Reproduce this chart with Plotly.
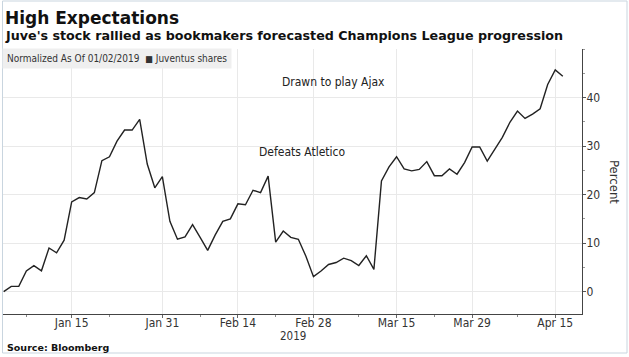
import pandas as pd
import plotly.graph_objects as go

# ---- data ----
dates = pd.bdate_range("2019-01-02", "2019-04-16")  # trading days
jan_vals = [0.0, 1.1, 1.1, 4.25, 5.35, 4.3, 9.0, 8.0, 10.6, 18.5, 19.4, 19.1, 20.4,
            27.0, 27.8, 31.0, 33.3, 33.3, 35.5, 26.3, 21.4, 23.7]
feb_vals = [14.5, 10.8, 11.3, 13.8, 11.2, 8.5, 11.7, 14.5, 15.0, 18.1, 17.9, 20.9,
            20.4, 23.8, 10.2, 12.5, 11.2, 10.8, 7.3, 3.1]
mar_vals = [4.25, 5.6, 6.0, 6.9, 6.4, 5.4, 7.4, 4.6, 22.8, 25.7, 27.8, 25.3, 24.9,
            25.2, 26.8, 23.9, 23.9, 25.3, 24.2, 26.6, 29.8]
apr_vals = [29.8, 26.9, 29.3, 31.8, 34.9, 37.2, 35.7, 36.6, 37.7, 42.7, 45.7, 44.4]
values = jan_vals + feb_vals + mar_vals + apr_vals

series_name = "Juventus shares"
legend_note = "Normalized As Of 01/02/2019"
tick_dates = ["2019-01-15", "2019-01-31", "2019-02-14", "2019-02-28",
              "2019-03-15", "2019-03-29", "2019-04-15"]
tick_labels = ["Jan 15", "Jan 31", "Feb 14", "Feb 28", "Mar 15", "Mar 29", "Apr 15"]
minor_dates = ["2019-01-07", "2019-01-22", "2019-02-07", "2019-02-21",
               "2019-03-08", "2019-03-22", "2019-04-08"]
y_ticks = [0, 10, 20, 30, 40]
y_minor = [5, 15, 25, 35, 45, 50]
events = [("Drawn to play Ajax", 333, 82), ("Defeats Atletico", 302, 152)]

# ---- layout geometry ----
W, H = 629, 357
L, R, T, B = 3, 47, 49, 43
PW, PH = W - L - R, H - T - B


def px(x):
    return (x - L) / PW


def py(y):
    return (T + PH - y) / PH


NARROW = "DejaVu Sans Condensed, Liberation Sans Narrow, Arial Narrow, sans-serif"
BOLD = "DejaVu Sans, Verdana, sans-serif"

fig = go.Figure()
fig.add_trace(go.Scatter(x=dates, y=values, mode="lines", name=series_name,
                         line=dict(color="#222222", width=1.4), showlegend=False))

fig.update_layout(
    width=W, height=H,
    margin=dict(l=L, r=R, t=T, b=B),
    paper_bgcolor="white", plot_bgcolor="white",
    font=dict(family=NARROW, size=12, color="#333333"),
    xaxis=dict(
        type="date",
        range=["2019-01-01 21:50", "2019-04-18 13:00"],
        rangebreaks=[dict(bounds=["sat", "mon"])],
        tickmode="array", tickvals=tick_dates, ticktext=tick_labels,
        ticks="outside", ticklen=3, tickcolor="#666666",
        ticklabelstandoff=-5,
        showline=True, linecolor="#444444", linewidth=1,
        showgrid=True, gridcolor="#e9e9e9", gridwidth=1,
        zeroline=False,
        tickfont=dict(family=NARROW, size=12, color="#333333"),
        minor=dict(tickmode="array", tickvals=minor_dates, ticks="outside",
                   ticklen=2, tickcolor="#888888", showgrid=False),
    ),
    yaxis=dict(
        side="right",
        range=[-4.6, 50],
        tickmode="array", tickvals=y_ticks,
        ticks="outside", ticklen=3, tickcolor="#555555",
        ticklabelstandoff=-2,
        showline=True, linecolor="#444444", linewidth=1,
        showgrid=True, gridcolor="#e9e9e9", gridwidth=1,
        zeroline=False,
        tickfont=dict(family=NARROW, size=12, color="#333333"),
        minor=dict(tickmode="array", tickvals=y_minor, ticks="outside",
                   ticklen=2, tickcolor="#999999", showgrid=False),
    ),
)

ann = []
ann.append(dict(text="<b>High Expectations</b>", x=px(3), y=py(18), xref="paper", yref="paper",
                xanchor="left", yanchor="middle", showarrow=False,
                font=dict(family=BOLD, size=17, color="#111111")))
ann.append(dict(text="<b>Juve's stock rallied as bookmakers forecasted Champions League progression</b>",
                x=px(3), y=py(35), xref="paper", yref="paper",
                xanchor="left", yanchor="middle", showarrow=False,
                font=dict(family=BOLD, size=12.7, color="#111111")))
ann.append(dict(text=legend_note + "\u00a0\u00a0<span style='font-size:9px'>■</span>\u00a0" + series_name,
                x=px(2), y=py(48), xref="paper", yref="paper",
                xanchor="left", yanchor="top", showarrow=False,
                bgcolor="#efefef", borderpad=4,
                font=dict(family=NARROW, size=10, color="#333333")))
for txt, ex, ey in events:
    ann.append(dict(text=txt, x=px(ex), y=py(ey), xref="paper", yref="paper",
                    xanchor="center", yanchor="middle", showarrow=False,
                    font=dict(family=NARROW, size=12, color="#222222")))
ann.append(dict(text="Percent", x=px(615), y=py(182), xref="paper", yref="paper",
                xanchor="center", yanchor="middle", showarrow=False, textangle=90,
                font=dict(family=NARROW, size=13, color="#333333")))
ann.append(dict(text="2019", x=px(293), y=py(335.5), xref="paper", yref="paper",
                xanchor="center", yanchor="middle", showarrow=False,
                font=dict(family=NARROW, size=11.5, color="#333333")))
ann.append(dict(text="<b>Source: Bloomberg</b>", x=px(5), y=py(347.5), xref="paper", yref="paper",
                xanchor="left", yanchor="middle", showarrow=False,
                font=dict(family=BOLD, size=9.5, color="#111111")))
fig.update_layout(annotations=ann)

# outer frame
fig.add_shape(type="rect", xref="paper", yref="paper",
              x0=px(2.5), x1=px(627), y0=py(353), y1=py(1),
              line=dict(color="#c9d5df", width=1), fillcolor="rgba(0,0,0,0)", layer="below")

fig.write_html("out.html", config={"displayModeBar": False},
               post_script="document.body.style.margin='0';document.body.style.padding='0';")
